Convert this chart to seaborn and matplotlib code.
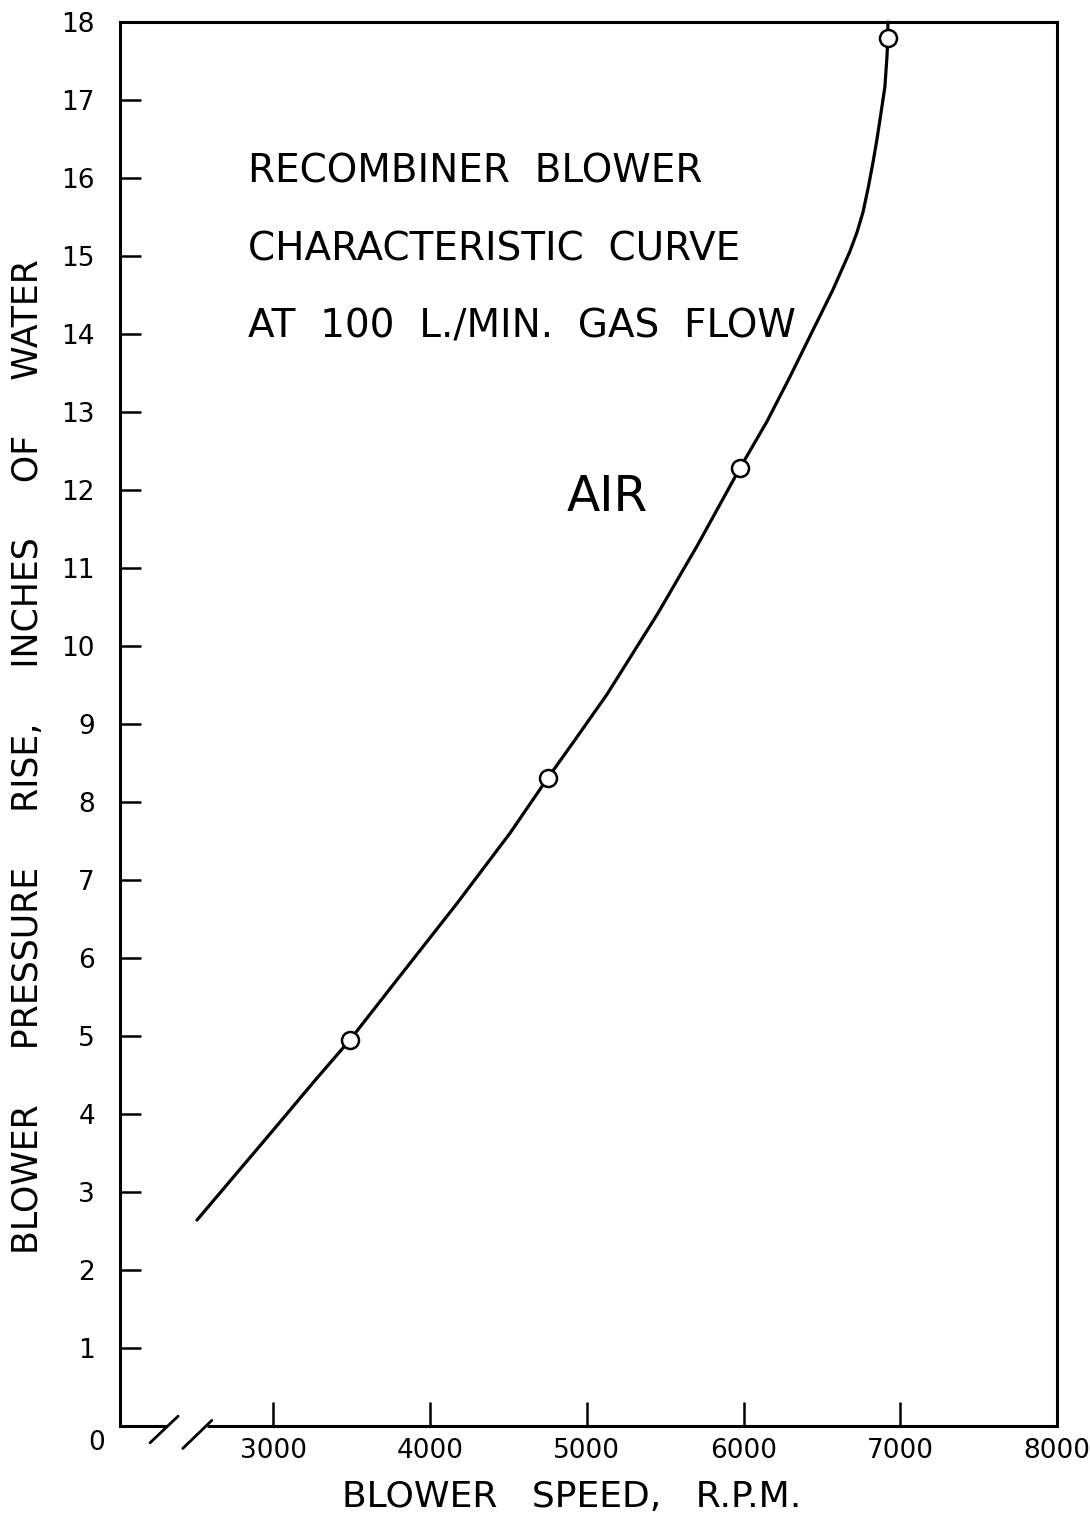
import matplotlib
matplotlib.use("Agg")
import matplotlib.pyplot as plt
import seaborn as sns
import pandas as pd

# ---- data ----
curve_speed = [2513, 2998, 3253, 3489, 3789, 4172, 4510, 4752, 4912, 5129, 5448,
               5703, 5977, 6150, 6296, 6443, 6571, 6679, 6725, 6762, 6796, 6826, 6850,
               6870, 6902, 6915, 6921, 6921]
curve_pressure = [2.64, 3.79, 4.40, 4.95, 5.72, 6.70, 7.60, 8.31, 8.76, 9.38, 10.40,
                  11.28, 12.28, 12.88, 13.45, 14.05, 14.57, 15.06, 15.31, 15.56, 15.88,
                  16.20, 16.48, 16.74, 17.17, 17.55, 17.79, 18.0]
point_speed = [3489, 4752, 5977, 6921]
point_pressure = [4.95, 8.31, 12.28, 17.79]
x_ticks = [3000, 4000, 5000, 6000, 7000, 8000]
y_ticks = list(range(1, 19))
title_lines = ["RECOMBINER  BLOWER", "CHARACTERISTIC  CURVE", "AT  100  L./MIN.  GAS  FLOW"]

sns.set_theme(style="white")
plt.rcParams['font.family'] = ['DejaVu Sans']

fig = plt.figure(figsize=(10.9, 15.22), dpi=100)
ax = fig.add_axes([120/1090, 96/1522, 937/1090, 1404/1522])

curve_df = pd.DataFrame({"speed": curve_speed, "pressure": curve_pressure})
pts_df = pd.DataFrame({"speed": point_speed, "pressure": point_pressure})

sns.lineplot(data=curve_df, x="speed", y="pressure", sort=False, estimator=None,
             color="black", linewidth=2.3, ax=ax, zorder=2, clip_on=False)
sns.scatterplot(data=pts_df, x="speed", y="pressure", s=150, marker="o",
                facecolor="white", edgecolor="black", linewidth=1.8, ax=ax,
                zorder=3, clip_on=False)

ax.set_xlim(2022, 8000)
ax.set_ylim(0, 18)
ax.set_xticks(x_ticks)
ax.set_xticklabels([str(v) for v in x_ticks])
ax.set_yticks(y_ticks)
ax.set_yticklabels([str(v) for v in y_ticks])
ax.set_xlabel("")
ax.set_ylabel("")

ax.tick_params(axis="y", direction="in", length=15, width=1.8, pad=18,
               labelsize=19, left=True, right=False, colors="black")
ax.tick_params(axis="x", direction="in", length=17, width=1.8, pad=9,
               labelsize=19, bottom=True, top=False, colors="black")

for side in ["left", "top", "right"]:
    ax.spines[side].set_linewidth(2.2)
    ax.spines[side].set_color("black")
ax.spines["bottom"].set_visible(False)

# bottom axis line with a break
ax.plot([0, 0.050], [0, 0], transform=ax.transAxes, color="black", lw=2.2,
        clip_on=False, solid_capstyle="butt")
ax.plot([0.093, 1], [0, 0], transform=ax.transAxes, color="black", lw=2.2,
        clip_on=False, solid_capstyle="butt")
ax.plot([0.032, 0.062], [-0.012, 0.007], transform=ax.transAxes, color="black",
        lw=2.0, clip_on=False)
ax.plot([0.067, 0.098], [-0.016, 0.004], transform=ax.transAxes, color="black",
        lw=2.0, clip_on=False)

# origin label
ax.text(-0.025, -0.012, "0", transform=ax.transAxes, ha="center", va="center",
        fontsize=19, color="black")

# annotations
ys = [15.94, 14.94, 13.95]
for line, yv in zip(title_lines, ys):
    ax.text(2839, yv, line, fontsize=28, ha="left", va="baseline", color="black")
ax.text(5129, 11.91, "AIR", fontsize=35, ha="center", va="center", color="black")

fig.text(572/1090, 1 - 1497/1522, "BLOWER   SPEED,   R.P.M.", fontsize=26,
         ha="center", va="center", color="black")
fig.text(28/1090, 1 - 757/1522,
         "BLOWER     PRESSURE     RISE,     INCHES     OF     WATER",
         fontsize=25, rotation=90, ha="center", va="center", color="black")

fig.savefig("out.png", dpi=100, facecolor="white")
